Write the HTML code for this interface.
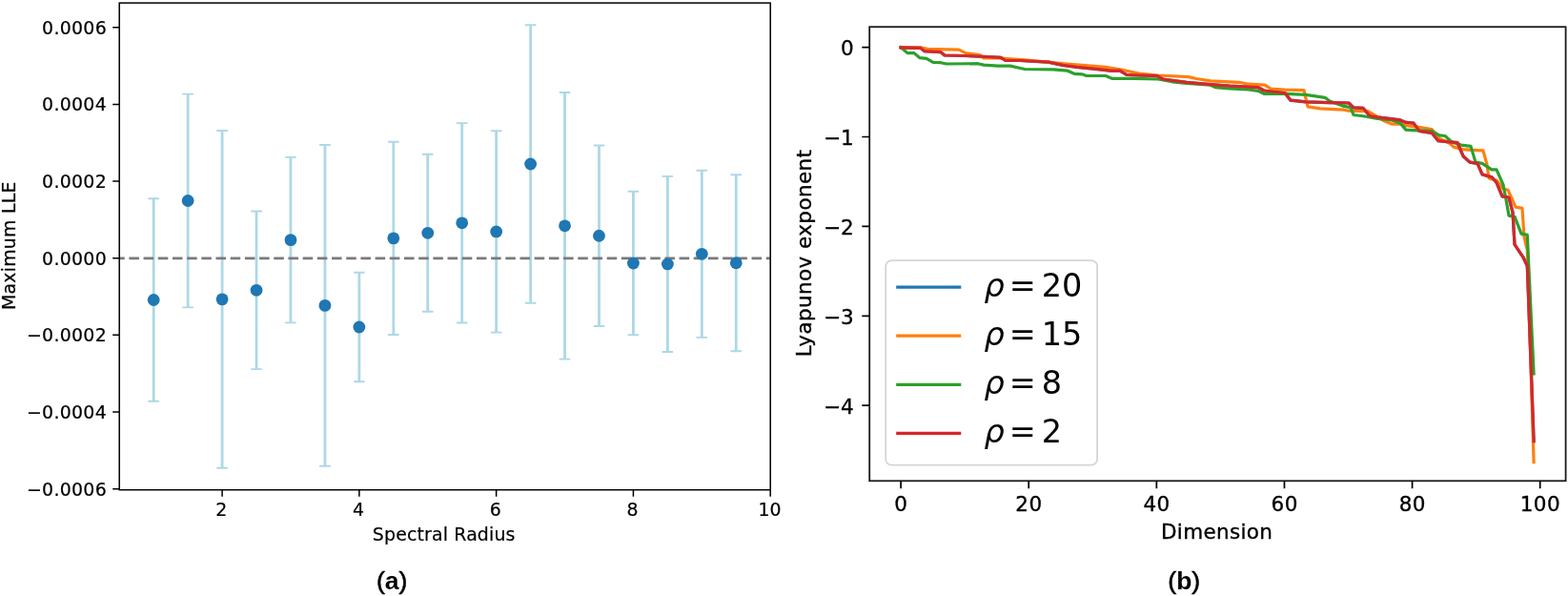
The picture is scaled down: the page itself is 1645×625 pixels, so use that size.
<!DOCTYPE html>
<html><head><meta charset="utf-8"><title>Figure</title>
<style>
html,body{margin:0;padding:0;background:#fff;}
body{width:1645px;height:625px;overflow:hidden;}
svg{display:block;}
.tl{font-family:"DejaVu Sans",sans-serif;font-size:18.9px;fill:#000;stroke:#000;stroke-width:0.2px;}
.tr{font-family:"DejaVu Sans",sans-serif;font-size:21.5px;fill:#000;stroke:#000;stroke-width:0.35px;}
.lg{font-family:"DejaVu Sans",sans-serif;font-size:33.5px;fill:#000;}
.it{font-style:italic;}
.cap{font-family:"Liberation Sans",Arial,sans-serif;font-weight:bold;font-size:26.5px;fill:#000;}
.par{font-weight:normal;stroke:#000;stroke-width:0.6px;}
</style></head>
<body>
<svg width="1645" height="625" viewBox="0 0 1645 625">
<defs><clipPath id="clipL"><rect x="125.2" y="3.1" width="683" height="510.6"/></clipPath></defs>
<rect width="1645" height="625" fill="#fff"/>
<g id="left">
<path d="M161.19 208.2V420.8M197.13 98.6V322.4M233.08 137V490.7M269.02 221.5V387.1M304.97 164.9V338.4M340.92 152V488.8M376.86 285.7V400.3M412.81 148.7V351M448.75 161.8V326.8M484.69 129.1V338.5M520.64 137.3V348.6M556.59 26.3V317.7M592.53 97V376.6M628.47 152.5V342M664.42 200.7V351.3M700.37 184.9V369M736.31 178.7V353.9M772.25 183.3V368.2" stroke="#add8e6" stroke-width="2.8" fill="none"/>
<path d="M155.39 208.2H166.99M155.39 420.8H166.99M191.33 98.6H202.94M191.33 322.4H202.94M227.28 137H238.88M227.28 490.7H238.88M263.22 221.5H274.82M263.22 387.1H274.82M299.17 164.9H310.77M299.17 338.4H310.77M335.12 152H346.72M335.12 488.8H346.72M371.06 285.7H382.66M371.06 400.3H382.66M407 148.7H418.61M407 351H418.61M442.95 161.8H454.55M442.95 326.8H454.55M478.89 129.1H490.5M478.89 338.5H490.5M514.84 137.3H526.44M514.84 348.6H526.44M550.79 26.3H562.38M550.79 317.7H562.38M586.73 97H598.33M586.73 376.6H598.33M622.67 152.5H634.27M622.67 342H634.27M658.62 200.7H670.22M658.62 351.3H670.22M694.57 184.9H706.16M694.57 369H706.16M730.51 178.7H742.11M730.51 353.9H742.11M766.46 183.3H778.05M766.46 368.2H778.05" stroke="#add8e6" stroke-width="1.9" fill="none"/>
<path d="M89.8 270.9H808.2" stroke="#7a7a7a" stroke-width="2.8" stroke-dasharray="10.55 4.64" fill="none" clip-path="url(#clipL)"/>
<circle cx="161.19" cy="314.5" r="6.4" fill="#1f77b4"/>
<circle cx="197.13" cy="210.5" r="6.4" fill="#1f77b4"/>
<circle cx="233.08" cy="313.85" r="6.4" fill="#1f77b4"/>
<circle cx="269.02" cy="304.3" r="6.4" fill="#1f77b4"/>
<circle cx="304.97" cy="251.65" r="6.4" fill="#1f77b4"/>
<circle cx="340.92" cy="320.4" r="6.4" fill="#1f77b4"/>
<circle cx="376.86" cy="343" r="6.4" fill="#1f77b4"/>
<circle cx="412.81" cy="249.85" r="6.4" fill="#1f77b4"/>
<circle cx="448.75" cy="244.3" r="6.4" fill="#1f77b4"/>
<circle cx="484.69" cy="233.8" r="6.4" fill="#1f77b4"/>
<circle cx="520.64" cy="242.95" r="6.4" fill="#1f77b4"/>
<circle cx="556.59" cy="172" r="6.4" fill="#1f77b4"/>
<circle cx="592.53" cy="236.8" r="6.4" fill="#1f77b4"/>
<circle cx="628.47" cy="247.25" r="6.4" fill="#1f77b4"/>
<circle cx="664.42" cy="276" r="6.4" fill="#1f77b4"/>
<circle cx="700.37" cy="276.95" r="6.4" fill="#1f77b4"/>
<circle cx="736.31" cy="266.3" r="6.4" fill="#1f77b4"/>
<circle cx="772.25" cy="275.75" r="6.4" fill="#1f77b4"/>
<rect x="125.2" y="3.1" width="683" height="510.6" fill="none" stroke="#000" stroke-width="1.5"/>
<text x="112" y="35.6" text-anchor="end" class="tl" letter-spacing="0.3">0.0006</text>
<text x="112" y="116.25" text-anchor="end" class="tl" letter-spacing="0.3">0.0004</text>
<text x="112" y="196.9" text-anchor="end" class="tl" letter-spacing="0.3">0.0002</text>
<text x="112" y="277.55" text-anchor="end" class="tl" letter-spacing="0.3">0.0000</text>
<text x="112" y="358.2" text-anchor="end" class="tl" letter-spacing="0.3">−0.0002</text>
<text x="112" y="438.85" text-anchor="end" class="tl" letter-spacing="0.3">−0.0004</text>
<text x="112" y="519.5" text-anchor="end" class="tl" letter-spacing="0.3">−0.0006</text>
<text x="232.28" y="541.2" text-anchor="middle" class="tl">2</text>
<text x="376.06" y="541.2" text-anchor="middle" class="tl">4</text>
<text x="519.84" y="541.2" text-anchor="middle" class="tl">6</text>
<text x="663.62" y="541.2" text-anchor="middle" class="tl">8</text>
<text x="807.4" y="541.2" text-anchor="middle" class="tl">10</text>
<path d="M118.2 28.75H125.2M118.2 109.4H125.2M118.2 190.05H125.2M118.2 270.7H125.2M118.2 351.35H125.2M118.2 432H125.2M118.2 512.65H125.2M233.08 513.7V520.7M376.86 513.7V520.7M520.64 513.7V520.7M664.42 513.7V520.7M808.2 513.7V520.7" stroke="#000" stroke-width="1.5" fill="none"/>
<text x="465.7" y="567.1" text-anchor="middle" class="tl" letter-spacing="0.16">Spectral Radius</text>
<text transform="translate(16 257.75) rotate(-90)" text-anchor="middle" class="tl" letter-spacing="0.23">Maximum LLE</text>
</g>
<g id="right">
<path d="M945.1 49.9 966 50.4 970 53.7 987 54.7 991 58 1012 58.5 1035 59.5 1050 60.4 1055 63.5 1070 63.5 1100 65.1 1115 68.4 1130 70.4 1150 72.3 1165 74.2 1175 74.2 1182 78.5 1214 79.6 1220 83 1245 86.3 1270 88.7 1290 90.2 1320 91.6 1326 95 1348 97.5 1354 105.2 1370 106.9 1395 107.6 1415 108 1420 112.8 1430 113.3 1437 121.5 1445 122.9 1469 125.9 1475 128.4 1483 129.1 1489 137.4 1502 139.3 1509 147.6 1520 148.9 1529 149.6 1535 163.7 1542 170.1 1550 171.3 1555 182.9 1565 185.8 1570 191.4 1576 205.9 1583 207 1587 222.7 1589 256.4 1598 269.8 1602.3 279 1609.1 462.7" stroke="#1f77b4" stroke-width="3.2" fill="none" stroke-linejoin="round" stroke-linecap="square"/>
<path d="M945.1 49.6 966 49.9 973 51.3 1006 52.1 1013 55.6 1028 57.6 1032 60.9 1047 60.9 1075 62.8 1120 67 1160 70.4 1175 72.8 1195 77.1 1215 79 1247 80.6 1255 82.5 1270 84.9 1300 86.3 1310 88.2 1327 89.2 1333 93 1348 94.1 1368 94.6 1372 111.9 1385 113.8 1410 115.2 1415 116.2 1435 116.7 1445 122.5 1452 126.8 1460 130.1 1468 129.9 1475 131.6 1490 133.6 1502 135.5 1510 145.1 1520 149.6 1525 154.1 1535 156.6 1545 157.3 1556 157.9 1560 172.6 1562 186.9 1570 189.1 1577 198.1 1582 199.2 1590 217.1 1597 218.3 1599 248.5 1602.3 262 1609.1 484.6" stroke="#ff7f0e" stroke-width="3.2" fill="none" stroke-linejoin="round" stroke-linecap="square"/>
<path d="M945.1 49.6 952 55.6 959 55.6 965 60.7 972 61.4 979 65.3 987 65.7 993 67 1026 66.7 1032 68.1 1047 69.1 1060 69.1 1068 71 1075 72.5 1105 72.8 1120 74.2 1127 77.3 1135 77.8 1140 79.5 1160 79.5 1167 82.4 1190 82.4 1215 83 1230 85.8 1245 87.3 1270 89.2 1275 91.6 1290 93 1310 94 1320 95.4 1326 98.3 1350 98.4 1370 99.4 1390 102.3 1395 106.1 1410 111.4 1417 112.8 1420 120.5 1432 122 1445 124.4 1460 126 1469 129.1 1475 136.1 1488 136.8 1502 137.4 1510 141.9 1516 142.5 1523 148.9 1533 152.1 1543 153.4 1548 170.1 1555 171.3 1565 177.9 1570 177.9 1577 193.6 1580 209.3 1583 226.1 1589 227.2 1596 245.2 1602.3 246.3 1609.1 391.9" stroke="#2ca02c" stroke-width="3.2" fill="none" stroke-linejoin="round" stroke-linecap="square"/>
<path d="M945.1 49.9 966 50.4 970 53.7 987 54.7 991 58 1012 58.5 1035 59.5 1050 60.4 1055 63.5 1070 63.5 1100 65.1 1115 68.4 1130 70.4 1150 72.3 1165 74.2 1175 74.2 1182 78.5 1214 79.6 1220 83 1245 86.3 1270 88.7 1290 90.2 1320 91.6 1326 95 1348 97.5 1354 105.2 1370 106.9 1395 107.6 1415 108 1420 112.8 1430 113.3 1437 121.5 1445 122.9 1469 125.9 1475 128.4 1483 129.1 1489 137.4 1502 139.3 1509 147.6 1520 148.9 1529 149.6 1535 163.7 1542 170.1 1550 171.3 1555 182.9 1565 185.8 1570 191.4 1576 205.9 1583 207 1587 222.7 1589 256.4 1598 269.8 1602.3 279 1609.1 462.7" stroke="#d62728" stroke-width="3.2" fill="none" stroke-linejoin="round" stroke-linecap="square"/>
<rect x="912.2" y="28.2" width="730.4" height="476.1" fill="none" stroke="#1a1a1a" stroke-width="1.8"/>
<text x="895.7" y="57.9" text-anchor="end" class="tr">0</text>
<text x="895.7" y="151.8" text-anchor="end" class="tr">−1</text>
<text x="895.7" y="245.7" text-anchor="end" class="tr">−2</text>
<text x="895.7" y="339.6" text-anchor="end" class="tr">−3</text>
<text x="895.7" y="433.5" text-anchor="end" class="tr">−4</text>
<text x="945.35" y="536.2" text-anchor="middle" class="tr" letter-spacing="0.5">0</text>
<text x="1079.47" y="536.2" text-anchor="middle" class="tr" letter-spacing="0.5">20</text>
<text x="1213.59" y="536.2" text-anchor="middle" class="tr" letter-spacing="0.5">40</text>
<text x="1347.71" y="536.2" text-anchor="middle" class="tr" letter-spacing="0.5">60</text>
<text x="1481.83" y="536.2" text-anchor="middle" class="tr" letter-spacing="0.5">80</text>
<text x="1615.95" y="536.2" text-anchor="middle" class="tr" letter-spacing="0.5">100</text>
<path d="M904.3 49.6H912.2M904.3 143.5H912.2M904.3 237.4H912.2M904.3 331.3H912.2M904.3 425.2H912.2M945.1 504.3V512.2M1079.22 504.3V512.2M1213.34 504.3V512.2M1347.46 504.3V512.2M1481.58 504.3V512.2M1615.7 504.3V512.2" stroke="#000" stroke-width="1.7" fill="none"/>
<text x="1276.6" y="565.4" text-anchor="middle" class="tr" letter-spacing="0.34">Dimension</text>
<text transform="translate(850.8 265.35) rotate(-90)" text-anchor="middle" class="tr" letter-spacing="0.4">Lyapunov exponent</text>
<rect x="929.2" y="273.1" width="221.9" height="214.6" rx="6.2" ry="6.2" fill="#fff" fill-opacity="0.8" stroke="#d5d5d5" stroke-width="1.8"/>
<path d="M940.2 301.1H1008.3" stroke="#1f77b4" stroke-width="3.2"/>
<text x="1032.6" y="311" class="lg it">ρ</text>
<text x="1058.8" y="311" class="lg">=</text>
<text x="1092.8" y="311" class="lg">20</text>
<path d="M940.2 352.2H1008.3" stroke="#ff7f0e" stroke-width="3.2"/>
<text x="1032.6" y="362.1" class="lg it">ρ</text>
<text x="1058.8" y="362.1" class="lg">=</text>
<text x="1092.8" y="362.1" class="lg">15</text>
<path d="M940.2 403.3H1008.3" stroke="#2ca02c" stroke-width="3.2"/>
<text x="1032.6" y="413.2" class="lg it">ρ</text>
<text x="1058.8" y="413.2" class="lg">=</text>
<text x="1092.8" y="413.2" class="lg">8</text>
<path d="M940.2 454.4H1008.3" stroke="#d62728" stroke-width="3.2"/>
<text x="1032.6" y="464.3" class="lg it">ρ</text>
<text x="1058.8" y="464.3" class="lg">=</text>
<text x="1092.8" y="464.3" class="lg">2</text>
</g>
<text x="395" y="617.6" class="cap"><tspan class="par">(</tspan>a<tspan class="par">)</tspan></text>
<text x="1225.3" y="617.6" class="cap"><tspan class="par">(</tspan>b<tspan class="par">)</tspan></text>
</svg>
</body></html>
